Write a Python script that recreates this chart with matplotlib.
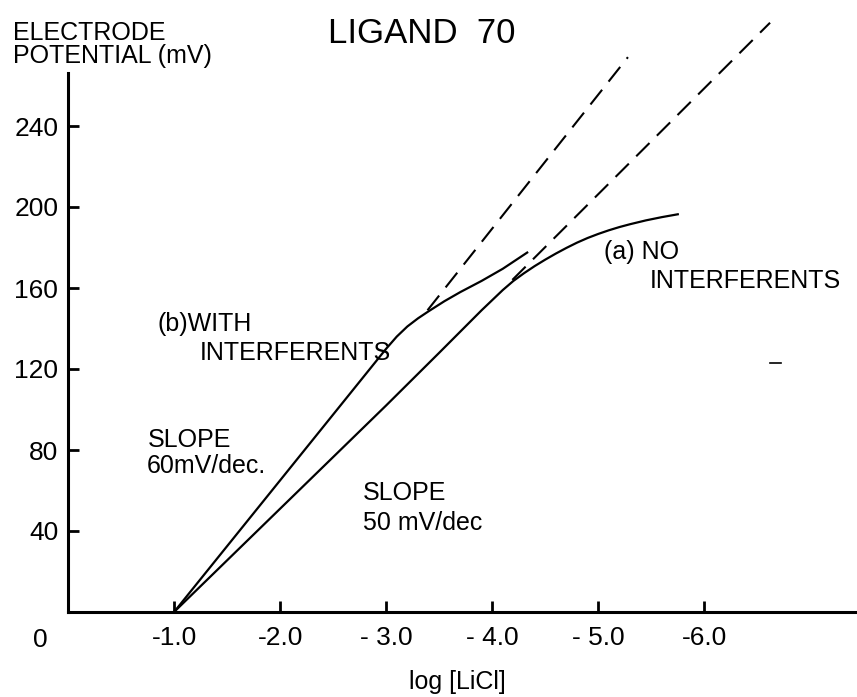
import matplotlib
matplotlib.use("Agg")
import matplotlib.pyplot as plt

plt.rcParams['font.family'] = ['Liberation Sans', 'DejaVu Sans']

# curva (a) sin interferentes
log_a = [-1.0, -2.0, -3.0, -3.5, -3.9, -4.0, -4.1, -4.2, -4.3, -4.4, -4.5, -4.6,
         -4.7, -4.8, -4.9, -5.0, -5.1, -5.2, -5.3, -5.45, -5.6, -5.75]
mv_a = [0, 51, 102, 128, 149, 154, 159, 163.5, 167.3, 170.8, 174, 177,
        179.8, 182.4, 184.7, 186.7, 188.5, 190.1, 191.5, 193.4, 195, 196.4]

# curva (b) con interferentes
log_b = [-1.0, -2.0, -3.0, -3.1, -3.2, -3.3, -3.4, -3.55, -3.7, -3.9, -4.1, -4.33]
mv_b = [0, 65, 130, 136, 141, 145, 148.5, 153.5, 158, 163.5, 169.5, 177.5]

# rectas extrapoladas (discontinuas)
ext_a_log = [-4.19, -6.62]
ext_a_mv = [164, 291]
ext_b_log = [-3.39, -5.28]
ext_b_mv = [149, 274]

x_ticks = [-1, -2, -3, -4, -5, -6]
x_labels = ["-1.0", "-2.0", "- 3.0", "- 4.0", "- 5.0", "-6.0"]
y_ticks = [40, 80, 120, 160, 200, 240]

# marca suelta del escaneo
mark_log = [-6.62, -6.72]
mark_mv = [123, 123]

W, H = 857, 697
fig = plt.figure(figsize=(W / 100, H / 100), dpi=100)
ax = fig.add_axes([68 / W, 85 / H, 1 - 68 / W, 607.5 / H])

ax.plot(log_a, mv_a, color="black", lw=1.6)
ax.plot(log_b, mv_b, color="black", lw=1.6)
ax.plot(ext_a_log, ext_a_mv, color="black", lw=1.5, linestyle=(0, (9, 5)), clip_on=False)
ax.plot(ext_b_log, ext_b_mv, color="black", lw=1.5, linestyle=(0, (9, 5)), clip_on=False)
ax.plot(mark_log, mark_mv, color="black", lw=1.2)

ax.set_xlim(0, -7.44)
ax.set_ylim(0, 300)

for lado in ["top", "right"]:
    ax.spines[lado].set_visible(False)
ax.spines["left"].set_bounds(0, 266)
ax.spines["left"].set_linewidth(2.2)
ax.spines["bottom"].set_linewidth(2.2)

ax.set_xticks(x_ticks)
ax.set_xticklabels(x_labels)
ax.set_yticks(y_ticks)
ax.tick_params(axis="both", direction="in", length=8, width=2, labelsize=19)
ax.tick_params(axis="x", pad=10)
ax.tick_params(axis="y", pad=7)

# textos
fs = 18
ax.text(-0.84, 139, "(b)WITH", fontsize=fs, va="baseline")
ax.text(-1.245, 124.5, "INTERFERENTS", fontsize=fs, va="baseline")
ax.text(-0.755, 81.5, "SLOPE", fontsize=fs, va="baseline")
ax.text(-0.745, 68.6, "60mV/dec.", fontsize=fs, va="baseline")
ax.text(-2.78, 55.3, "SLOPE", fontsize=fs, va="baseline")
ax.text(-2.78, 40.5, "50 mV/dec", fontsize=fs, va="baseline")
ax.text(-5.05, 174.5, "(a) NO", fontsize=fs, va="baseline")
ax.text(-5.49, 160, "INTERFERENTS", fontsize=fs, va="baseline")

fig.text(13 / W, 1 - 40 / H, "ELECTRODE", fontsize=fs, va="baseline")
fig.text(13 / W, 1 - 63 / H, "POTENTIAL (mV)", fontsize=fs, va="baseline")
fig.text(328 / W, 1 - 43 / H, "LIGAND  70", fontsize=25, va="baseline")
fig.text(40 / W, 1 - 647 / H, "0", fontsize=19, ha="center", va="baseline")
fig.text(457 / W, 1 - 682 / H, "log [LiCl]", fontsize=18, ha="center", va="center")

fig.savefig("out.png", dpi=100)
